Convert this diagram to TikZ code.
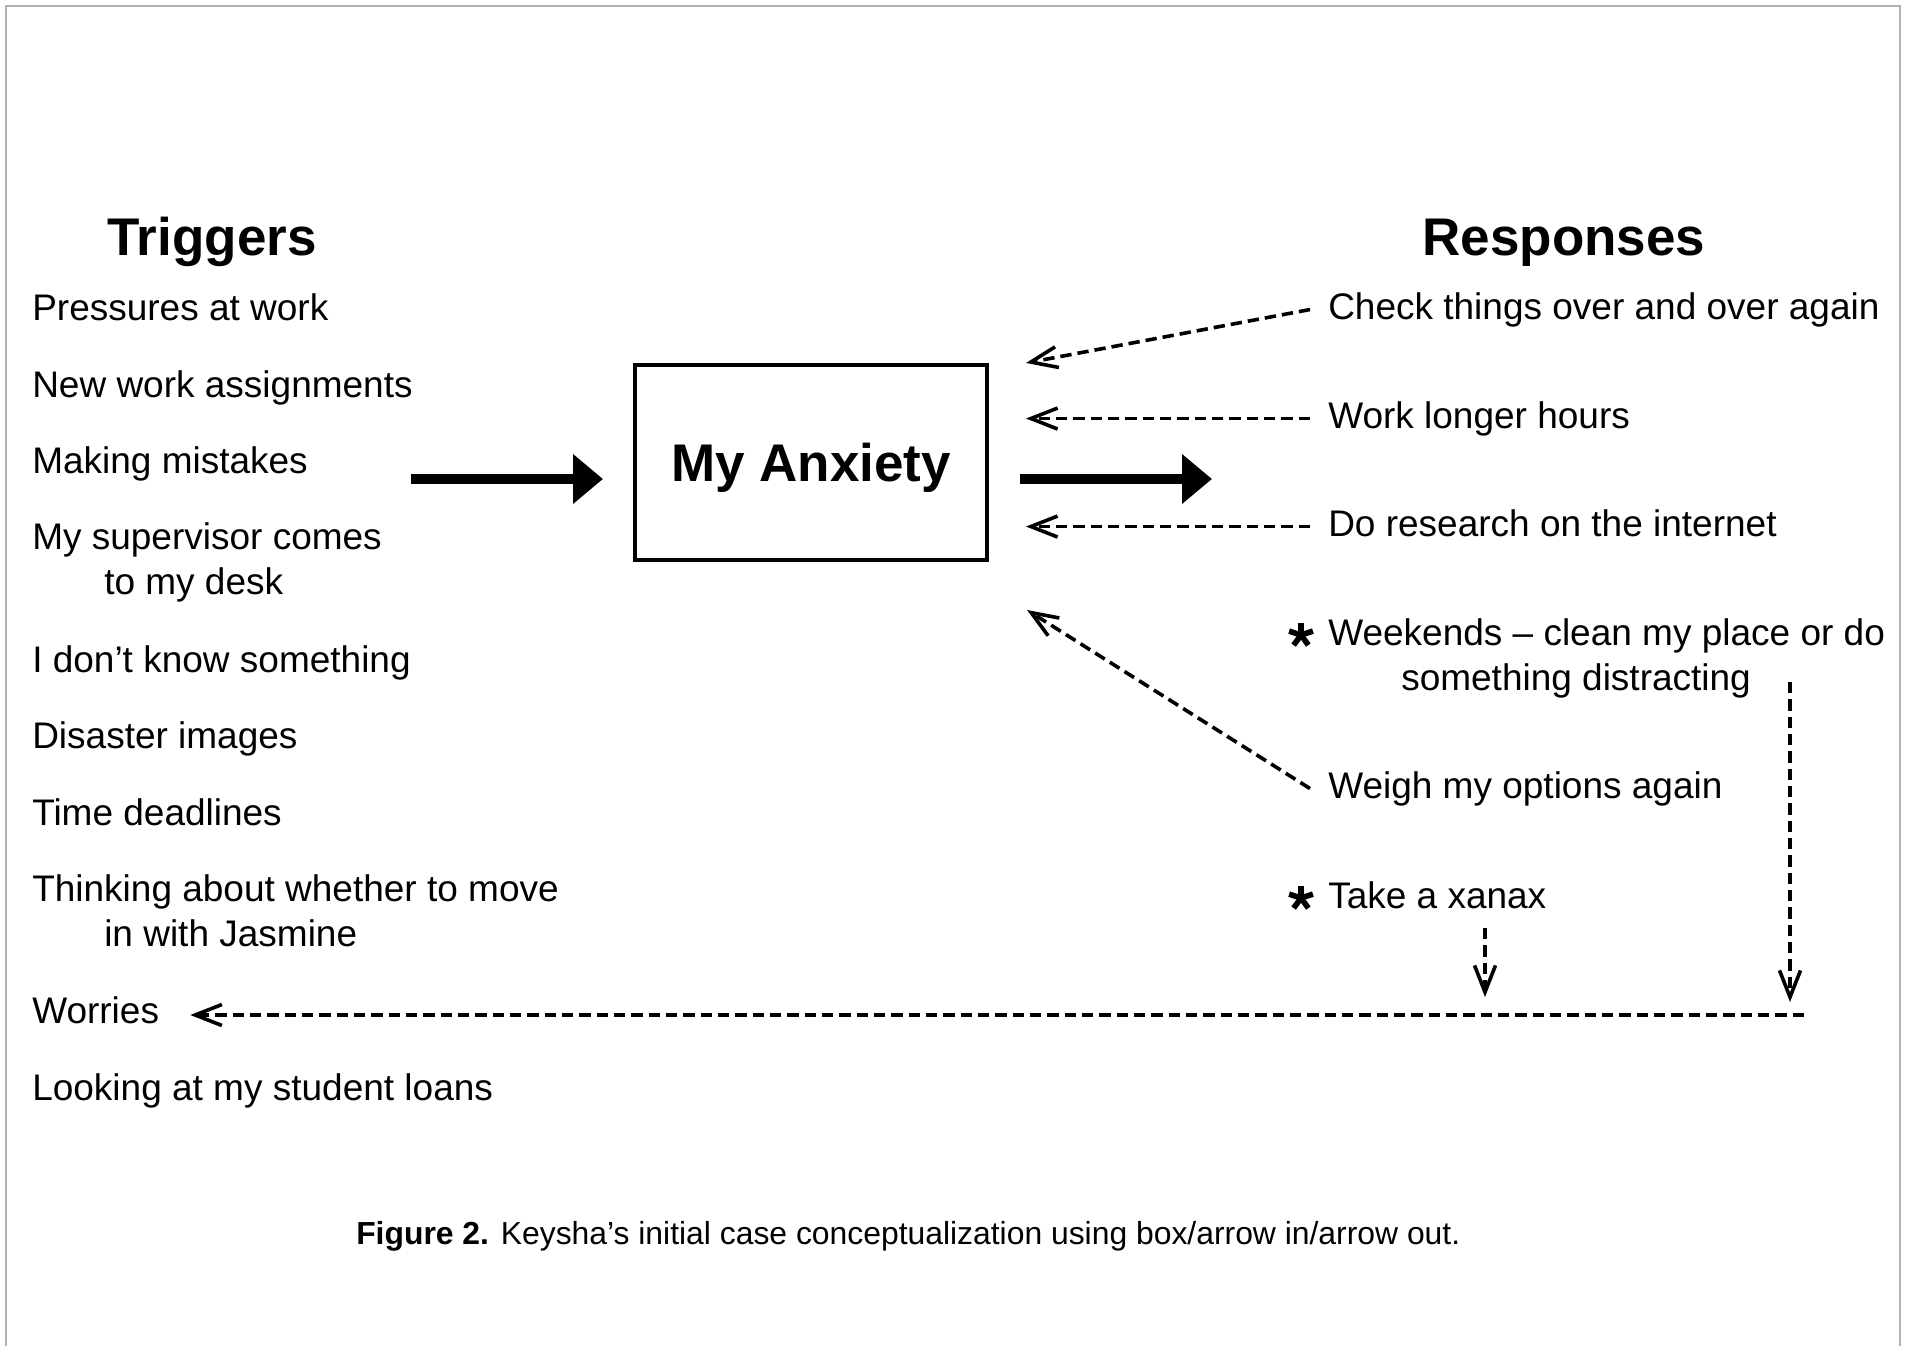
\documentclass[tikz,border=0pt]{standalone}
\usepackage{fontspec}
\setmainfont{Liberation Sans}
\usetikzlibrary{arrows.meta}
\newcommand{\twoline}[3]{\begin{tabular}[t]{@{}l@{}}#1\\\hspace*{#3}#2\end{tabular}}
\begin{document}
\begin{tikzpicture}[x=0.75pt,y=-0.75pt,
  itemfont/.style={font=\fontsize{27.75}{33.75}\selectfont},
  item/.style={itemfont,anchor=base west,inner sep=0pt,text height=20pt,text depth=5.8pt},
  item2/.style={itemfont,anchor=base west,inner sep=0pt},
  heading/.style={anchor=base,inner sep=0pt,font=\fontsize{39.75}{46}\selectfont\bfseries},
  dar/.style={line width=2.7pt,dash pattern=on 8.5pt off 4.5pt,
    -{Straight Barb[length=20pt,width=15.75pt]}},
  bigarrow/.style={line width=7.5pt,-{Triangle[length=22.5pt,width=36pt]}},
  starmark/.style={line width=4.2pt}
]
\useasboundingbox (0,0) rectangle (1907,1346);
% frame
\draw[gray!60,line width=1pt] (6,1346) -- (6,6) -- (1900,6) -- (1900,1346);

% headings
\node[heading] (trig) at (212,255) {Triggers};
\node[heading] (resp) at (1564,255) {Responses};

% central box
\node[draw,line width=2.7pt,minimum width=264pt,minimum height=146pt,inner sep=0pt,
      font=\fontsize{39.75}{46}\selectfont\bfseries,text height=28.6pt,text depth=0.8pt]
      (box) at (811,462.5) {My Anxiety};

% triggers
\node[item] (t1) at (32,320) {Pressures at work};
\node[item] (t2) at (32,397) {New work assignments};
\node[item] (t3) at (32,473) {Making mistakes};
\node[item2] (t4) at (32,549) {\twoline{My supervisor comes}{to my desk}{54pt}};
\node[item] (t5) at (32,672) {I don’t know something};
\node[item] (t6) at (32,748) {Disaster images};
\node[item] (t7) at (32,825) {Time deadlines};
\node[item2] (t8) at (32,901) {\twoline{Thinking about whether to move}{in with Jasmine}{54pt}};
\node[item] (t9) at (32,1023) {Worries};
\node[item] (t10) at (32,1100) {Looking at my student loans};

% responses
\node[item] (r1) at (1328,319) {Check things over and over again};
\node[item] (r2) at (1328,428) {Work longer hours};
\node[item] (r3) at (1328,536) {Do research on the internet};
\node[item2] (r4) at (1328,645) {\twoline{Weekends – clean my place or do}{something distracting}{54.75pt}};
\node[item] (r5) at (1328,798) {Weigh my options again};
\node[item] (r6) at (1328,908) {Take a xanax};

% asterisks
\foreach \cy in {635,898}{
  \foreach \a in {90,162,234,306,18}
    \draw[starmark] (1301,\cy) -- ++(\a:-12.5);
}

% thick arrows
\coordinate (inS) at (411,479);
\coordinate (inE) at (603,479);
\coordinate (outS) at (1020,479);
\coordinate (outE) at (1212,479);
\draw[bigarrow] (inS) -- (inE);
\draw[bigarrow] (outS) -- (outE);

% dashed feedback arrows
\coordinate (gap) at (1026,0);
\coordinate (e1) at (1026,363);
\coordinate (e5) at (1027,610);
\draw[dar] ([xshift=-13.5pt]r1.west) -- (e1);
\draw[dar] ([xshift=-13.5pt]r2.west) -- (gap |- r2.west);
\draw[dar] ([xshift=-13.5pt]r3.west) -- (gap |- r3.west);
\draw[dar] ([xshift=-13.5pt]r5.west) -- (e5);

% bottom return to Worries
\coordinate (join) at (1804,1015);
\coordinate (xS) at (1485,928);
\coordinate (xE) at (1485,997);
\coordinate (wS) at (1790,682);
\coordinate (wE) at (1790,1002);
\draw[dar] (join) -- ([xshift=23.25pt]t9.east |- join);
\draw[dar] (xS) -- (xE);
\draw[dar] (wS) -- (wE);

% caption
\node[anchor=base west,inner sep=0pt,font=\fontsize{23.9}{28}\selectfont] (cap) at (356,1244)
  {\textbf{Figure 2.} Keysha’s initial case conceptualization using box/arrow in/arrow out.};
\end{tikzpicture}
\end{document}
